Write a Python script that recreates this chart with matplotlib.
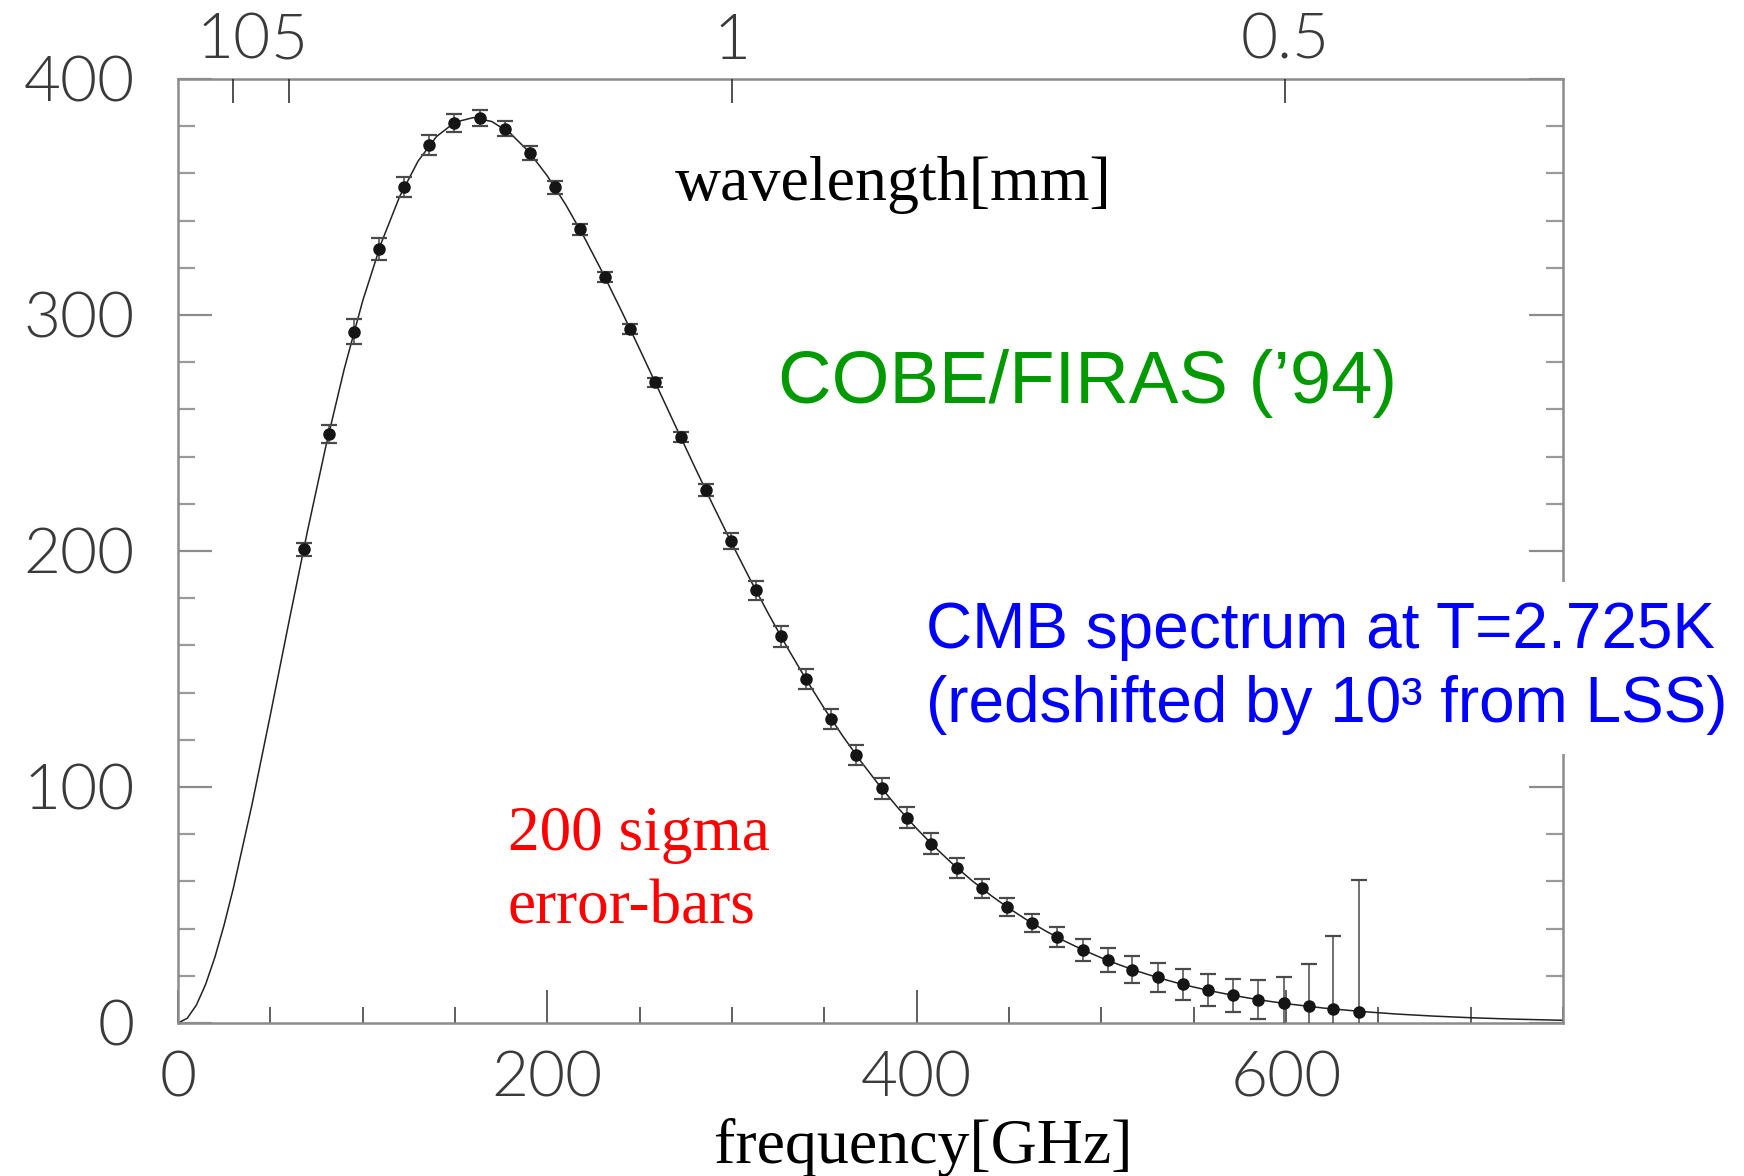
import numpy as np
import matplotlib
matplotlib.use("Agg")
import matplotlib.pyplot as plt
from matplotlib.ticker import MultipleLocator, FixedLocator, NullLocator

# ---------------- data ----------------
freq_ghz = [68.1, 81.5, 95.3, 108.8, 122.3, 136.1, 149.6, 163.4, 176.9, 190.4,
            204.2, 217.6, 231.1, 244.9, 258.4, 272.2, 285.7, 299.2, 313.0, 326.5,
            340.0, 353.8, 367.2, 381.0, 394.5, 408.0, 421.8, 435.3, 448.8, 462.6,
            476.1, 489.9, 503.4, 516.8, 530.6, 544.1, 557.9, 571.4, 584.9, 598.7,
            612.2, 625.7, 639.5]
intensity = [200.7, 249.5, 293.0, 327.8, 354.1, 372.1, 381.5, 383.5, 378.9, 368.8,
             354.1, 336.3, 316.1, 293.9, 271.4, 248.2, 225.9, 204.3, 183.3, 163.8,
             145.8, 128.8, 113.6, 99.5, 87.0, 75.9, 65.8, 57.0, 49.2, 42.3,
             36.4, 31.1, 26.6, 22.6, 19.3, 16.4, 13.8, 11.7, 9.9, 8.4,
             7.1, 5.8, 4.5]
errors = [2.8, 3.7, 5.1, 4.7, 4.2, 4.1, 3.8, 3.5, 3.2, 3.0,
          2.7, 2.4, 2.1, 2.1, 2.1, 2.1, 2.7, 3.3, 3.9, 4.4,
          4.4, 4.4, 4.4, 4.4, 4.4, 4.4, 4.2, 4.0, 3.7, 3.8,
          4.4, 4.7, 5.2, 5.6, 6.1, 6.5, 6.8, 7.1, 8.2, 11.0,
          17.8, 31.0, 56.0]

curve_freq = [0, 5, 10, 15, 20, 25, 30, 40, 50, 60, 70, 80, 90, 100, 110, 120, 130,
              140, 150, 160, 170, 180, 190, 200, 210, 220, 230, 240, 250, 260, 270,
              280, 290, 300, 310, 320, 330, 340, 350, 360, 370, 380, 390, 400, 410,
              420, 430, 440, 450, 460, 470, 480, 490, 500, 510, 520, 530, 540, 550,
              560, 570, 580, 590, 600, 620, 640, 660, 680, 700, 720, 750]
curve_val = [0, 2.00, 7.66, 16.46, 27.94, 41.65, 57.19, 92.27, 130.50, 169.69,
             208.05, 244.19, 277.06, 305.95, 330.39, 350.15, 365.20, 375.63, 381.68,
             383.66, 381.96, 376.98, 369.16, 358.92, 346.70, 332.89, 317.86, 301.97,
             285.51, 268.76, 251.96, 235.30, 218.95, 203.04, 187.70, 173.00, 159.00,
             145.75, 133.26, 121.55, 110.62, 100.46, 91.05, 82.36, 74.36, 67.02,
             60.30, 54.17, 48.58, 43.51, 38.92, 34.76, 31.00, 27.62, 24.58, 21.84,
             19.39, 17.20, 15.24, 13.49, 11.93, 10.54, 9.30, 8.20, 6.36, 4.92, 3.79,
             2.92, 2.24, 1.71, 1.14]

x_major_ticks = [0, 200, 400, 600]
y_major_ticks = [0, 100, 200, 300, 400]
wavelength_ticks_mm = [10, 5, 1, 0.5]
wavelength_labels = ["10", "5", "1", "0.5"]
C_GHZ_MM = 299.792458

# ---------------- figure ----------------
W, H = 1744, 1176
fig = plt.figure(figsize=(W / 100, H / 100), dpi=100)
fig.patch.set_facecolor("white")

def fx(px):
    return px / W

def fy(py):
    return 1 - py / H

L, R, T, B = 178, 1563, 79, 1023
ax = fig.add_axes([fx(L), fy(B), (R - L) / W, (B - T) / H])

tick_family = ["Lato", "DejaVu Sans"]
tick_size = 46
tick_weight = 300
tick_color = "#3a3a3a"
spine_gray = "#8c8c8c"

ax.plot(curve_freq, curve_val, color="#222222", lw=1.1, zorder=2)
ax.errorbar(freq_ghz, intensity, yerr=errors, fmt="none", ecolor="#4a4a4a",
            elinewidth=1.1, capsize=5.5, capthick=1.6, zorder=3)
ax.plot(freq_ghz, intensity, "o", color="#151515", ms=8, zorder=4)

ax.set_xlim(0, 750)
ax.set_ylim(0, 400)

for s in ax.spines.values():
    s.set_color(spine_gray)
    s.set_linewidth(1.8)

ax.xaxis.set_major_locator(FixedLocator(x_major_ticks))
ax.xaxis.set_minor_locator(MultipleLocator(50))
ax.yaxis.set_major_locator(FixedLocator(y_major_ticks))
ax.yaxis.set_minor_locator(MultipleLocator(20))

ax.tick_params(axis="x", which="major", direction="in", length=24, width=1.1,
               color="#333333", top=False, bottom=True, pad=20, labelcolor=tick_color)
ax.tick_params(axis="x", which="minor", direction="in", length=11.5, width=1.1,
               color="#333333", top=False, bottom=True)
ax.tick_params(axis="y", which="major", direction="in", length=24.5, width=1.6,
               color="#8c8c8c", left=True, right=True, pad=31, labelcolor=tick_color)
ax.tick_params(axis="y", which="minor", direction="in", length=12.5, width=1.6,
               color="#9a9a9a", left=True, right=True)
for lab in ax.get_xticklabels() + ax.get_yticklabels():
    lab.set_fontfamily(tick_family)
    lab.set_fontweight(tick_weight)
    lab.set_fontsize(tick_size)

# top wavelength axis
ax2 = ax.twiny()
ax2.set_xlim(ax.get_xlim())
ax2.xaxis.set_major_locator(FixedLocator([C_GHZ_MM / w for w in wavelength_ticks_mm]))
ax2.set_xticklabels(wavelength_labels)
ax2.xaxis.set_minor_locator(NullLocator())
for s in ax2.spines.values():
    s.set_visible(False)
ax2.tick_params(axis="x", which="major", direction="in", length=17, width=1.1,
                color="#222222", pad=6.5, labelcolor=tick_color)
for lab in ax2.get_xticklabels():
    lab.set_fontfamily(tick_family)
    lab.set_fontweight(tick_weight)
    lab.set_fontsize(tick_size)

# ---------------- texts ----------------
serif = ["Liberation Serif", "DejaVu Serif"]
sans = ["Liberation Sans", "DejaVu Sans"]

fig.text(fx(893), fy(200), "wavelength[mm]", ha="center", va="baseline",
         fontsize=46, family=serif, color="black")
fig.text(fx(923), fy(1163), "frequency[GHz]", ha="center", va="baseline",
         fontsize=46, family=serif, color="black")
fig.text(fx(778), fy(403), "COBE/FIRAS (\u201994)", ha="left", va="baseline",
         fontsize=53.5, family=sans, color="#009900")
fig.text(fx(508), fy(923), "200 sigma\nerror-bars", ha="left", va="baseline",
         fontsize=45.5, family=serif, color="#ff0000", linespacing=1.33)
fig.text(fx(926), fy(722), "CMB spectrum at T=2.725K\n(redshifted by 10\u00b3 from LSS)",
         ha="left", va="baseline", fontsize=46, family=sans, color="#0000ff",
         linespacing=1.3,
         bbox=dict(boxstyle="square,pad=0.3", facecolor="white", edgecolor="none"),
         zorder=10)

fig.savefig("out.png", dpi=100, facecolor="white")
